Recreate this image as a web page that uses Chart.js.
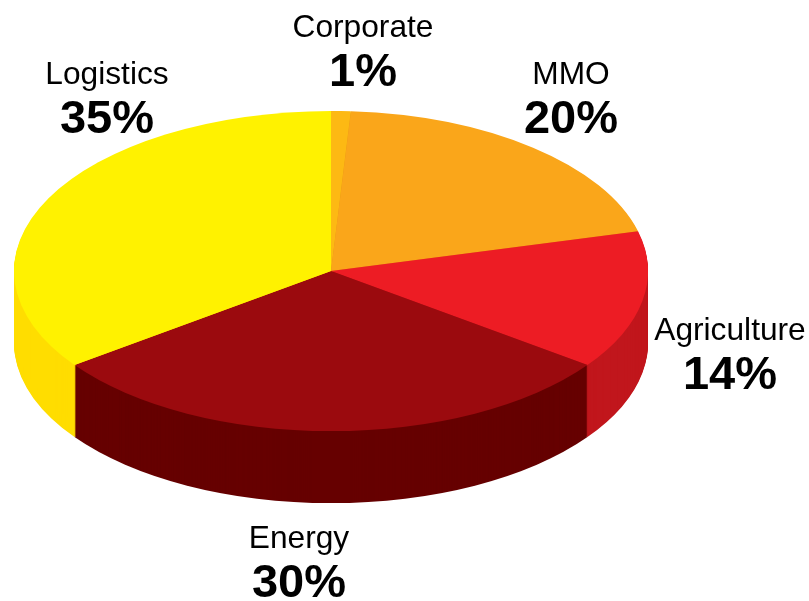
<!DOCTYPE html>
<html>
<head>
<meta charset="utf-8">
<title>Revenue by segment</title>
<script src="https://cdn.jsdelivr.net/npm/chart.js@4/dist/chart.umd.min.js"></script>
<style>
  html, body { margin: 0; background: #fff; }
  canvas { display: block; }
</style>
</head>
<body>
<canvas id="pieChart" width="809" height="601"></canvas>
<script>
const segments = ['Corporate', 'MMO', 'Agriculture', 'Energy', 'Logistics'];
const shares = [1, 20, 14, 30, 35];
const topColors = ['#fdb913', '#faa61a', '#ed1c24', '#9b0a0e', '#fff200'];
const sideColors = ['#e8a010', '#e09015', '#c1161c', '#660000', '#ffdd00'];

// label centre x, name baseline, percent baseline
const labelX = [363, 571, 730, 299, 107];
const nameY = [37, 84, 340, 548, 84];
const percentY = [86, 133, 389, 597, 133];

const squash = 0.505;
const wallDepth = 72;

function squashAround(ctx, arc, offsetY) {
  ctx.translate(arc.x, arc.y + offsetY);
  ctx.scale(1, squash);
  ctx.translate(-arc.x, -arc.y);
}

// flattens the pie and stacks darker copies below it for the side wall
const tiltPlugin = {
  id: 'tilt',
  beforeDatasetsDraw(chart) {
    const ctx = chart.ctx;
    const arcs = chart.getDatasetMeta(0).data;
    for (let depth = wallDepth; depth > 0; depth--) {
      arcs.forEach((arc, i) => {
        const topOptions = arc.options;
        arc.options = { ...topOptions, backgroundColor: sideColors[i], borderColor: sideColors[i] };
        ctx.save();
        squashAround(ctx, arc, depth);
        arc.draw(ctx);
        ctx.restore();
        arc.options = topOptions;
      });
    }
    ctx.save();
    squashAround(ctx, arcs[0], 0);
  },
  afterDatasetsDraw(chart) {
    chart.ctx.restore();
  }
};

const labelPlugin = {
  id: 'segmentLabels',
  afterDraw(chart) {
    const ctx = chart.ctx;
    ctx.save();
    ctx.fillStyle = '#000';
    ctx.textAlign = 'center';
    ctx.textBaseline = 'alphabetic';
    segments.forEach((name, i) => {
      ctx.font = '31.7px "Liberation Sans", Arial, sans-serif';
      ctx.fillText(name, labelX[i], nameY[i]);
      ctx.font = 'bold 47px "Liberation Sans", Arial, sans-serif';
      ctx.fillText(shares[i] + '%', labelX[i], percentY[i]);
    });
    ctx.restore();
  }
};

new Chart(document.getElementById('pieChart').getContext('2d'), {
  type: 'pie',
  data: {
    labels: segments,
    datasets: [{
      data: shares,
      backgroundColor: topColors,
      borderWidth: 0,
      clip: false
    }]
  },
  options: {
    responsive: false,
    animation: false,
    events: [],
    radius: 317,
    layout: { padding: { left: 0, top: 0, right: 147, bottom: 59 } },
    plugins: {
      legend: { display: false },
      tooltip: { enabled: false }
    }
  },
  plugins: [tiltPlugin, labelPlugin]
});
</script>
</body>
</html>
